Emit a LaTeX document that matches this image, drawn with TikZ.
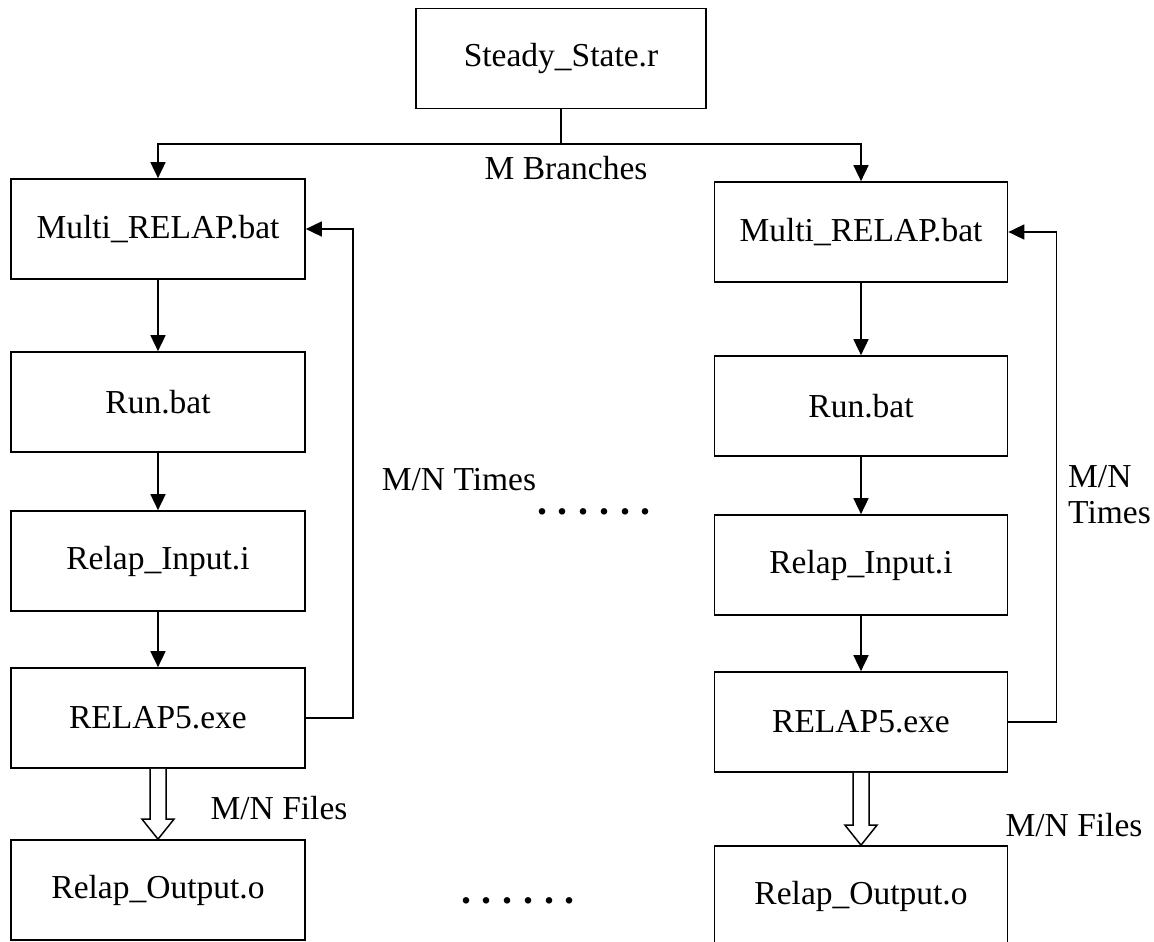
\documentclass[tikz,border=0pt]{standalone}
\usepackage{fontspec}
\setmainfont{Liberation Serif}
\usetikzlibrary{arrows.meta,calc}
\begin{document}
\begin{tikzpicture}[x=1pt,y=-1pt,
  every node/.style={font=\fontsize{33.5}{36}\selectfont},
  box/.style={draw, line width=1.7pt, minimum width=294pt, minimum height=100pt, inner sep=0pt},
  conn/.style={line width=1.7pt},
  arr/.style={conn, -{Triangle[length=16pt,width=15pt]}},
  fat/.style={line width=1.5pt, fill=white},
  dots/.style={font=\fontsize{40}{40}\selectfont\bfseries}]
\useasboundingbox (0,0) rectangle (1154,942);
\newcommand{\dotrow}{.\hspace{10.7pt}.\hspace{10.7pt}.\hspace{10.7pt}.\hspace{10.7pt}.\hspace{10.7pt}.}
% top
\node[box, minimum width=290pt] (steady) at (561,58.5) {Steady\_State.r};
% left column
\node[box] (multiL) at (158,229) {Multi\_RELAP.bat};
\node[box] (runL)   at (158,402) {Run.bat};
\node[box] (inL)    at (158,561) {Relap\_Input.i};
\node[box] (exeL)   at (158,718) {RELAP5.exe};
\node[box] (outL)   at (158,890) {Relap\_Output.o};
% right column
\node[box, minimum width=293pt] (multiR) at (861,232) {Multi\_RELAP.bat};
\node[box, minimum width=293pt] (runR)   at (861,406) {Run.bat};
\node[box, minimum width=293pt] (inR)    at (861,565) {Relap\_Input.i};
\node[box, minimum width=293pt] (exeR)   at (861,722) {RELAP5.exe};
\node[box, minimum width=293pt] (outR)   at (861,896) {Relap\_Output.o};
% branching
\draw[conn] (steady.south) -- ++(0,34.5) coordinate (j);
\draw[arr] (j) -| (multiL.north);
\draw[arr] (j) -| (multiR.north);
\node (mbr) at (566,168) {M Branches};
% chains
\foreach \c in {L,R}{
  \draw[arr] (multi\c.south) -- (run\c.north);
  \draw[arr] (run\c.south) -- (in\c.north);
  \draw[arr] (in\c.south) -- (exe\c.north);
}
\draw[arr] (exeL.east) -- ++(47,0) |- (multiL.east);
\draw[arr] (exeR.east) -- ++(48,0) |- (multiR.east);
% hollow arrows
\foreach \c in {L,R}{
  \draw[fat] ($(exe\c.south)+(-8,0)$) -- ($(out\c.north)+(-8,-20)$) -- ($(out\c.north)+(-16,-20)$)
    -- (out\c.north) -- ($(out\c.north)+(16,-20)$) -- ($(out\c.north)+(8,-20)$)
    -- ($(exe\c.south)+(8,0)$);
}
% labels
\node (timesL) at (459,480) {M/N Times};
\node[align=left, anchor=west, inner sep=0pt] (timesR) at (1068,495) {M/N\\Times};
\node (filesL) at (279,808) {M/N Files};
\node (filesR) at (1074,825) {M/N Files};
\node[dots] (dots1) at (594,512) {\dotrow};
\node[dots] (dots2) at (518,901) {\dotrow};
\end{tikzpicture}
\end{document}
